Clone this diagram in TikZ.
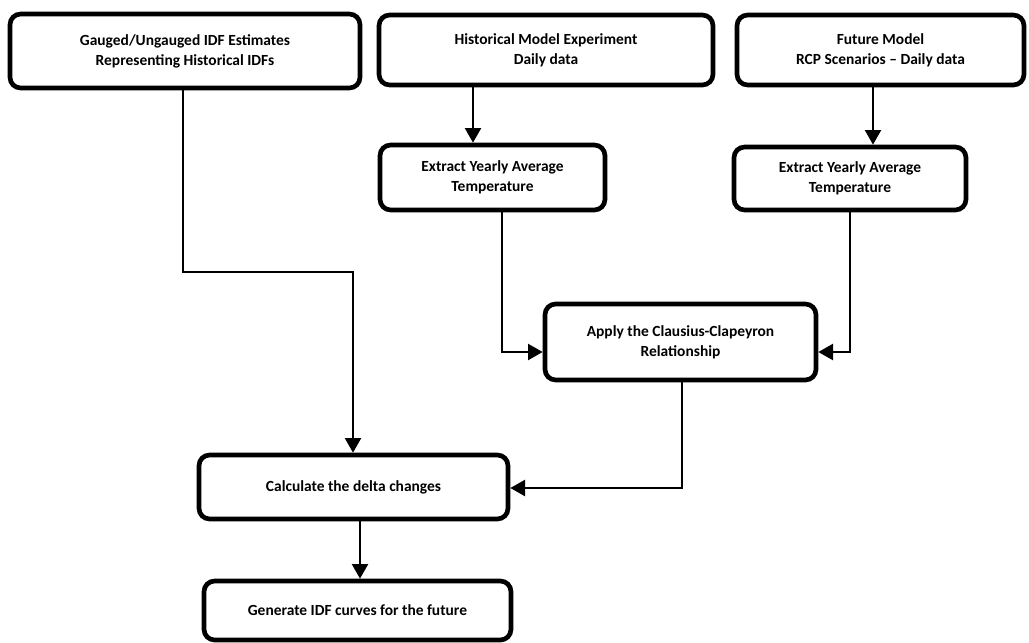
\documentclass[tikz,border=0pt]{standalone}
\usepackage{fontspec}
\setmainfont{Carlito}
\usetikzlibrary{arrows.meta}

\begin{document}
\begin{tikzpicture}[x=0.75pt,y=0.75pt,yscale=-1,xscale=1,
    box/.style={draw, line width=3.5pt, rounded corners=8pt, align=center, inner sep=2pt,
      font=\fontsize{11.6}{15}\selectfont\bfseries},
    link/.style={line width=1.75pt, -{Triangle[length=11pt,width=12pt]}}]
        \useasboundingbox (0,0) rectangle (1029,643);

        % Boxes
        \node [box, minimum width=262.5pt, minimum height=55.5pt] (gauged) at (185,51) {Gauged/Ungauged IDF Estimates\\Representing Historical IDFs};
        \node [box, minimum width=250.5pt, minimum height=52.5pt] (hist) at (546,50) {Historical Model Experiment\\Daily data};
        \node [box, minimum width=215.25pt, minimum height=52.5pt] (future) at (880.5,50) {Future Model\\RCP Scenarios -- Daily data};
        \node [box, minimum width=168.75pt, minimum height=48.75pt] (histtemp) at (492.5,177.5) {Extract Yearly Average\\Temperature};
        \node [box, minimum width=174pt, minimum height=47.25pt] (futtemp) at (850,178.5) {Extract Yearly Average\\Temperature};
        \node [box, minimum width=203.25pt, minimum height=57pt] (cc) at (680.5,342) {Apply the Clausius-Clapeyron\\Relationship};
        \node [box, minimum width=231.75pt, minimum height=48pt] (delta) at (353.5,487) {Calculate the delta changes};
        \node [box, minimum width=230.25pt, minimum height=44.25pt] (curves) at (357.5,610.5) {Generate IDF curves for the future};

        % Bend points and columns
        \coordinate (k1) at (183,272);
        \coordinate (k2) at (353,272);
        \coordinate (k3) at (473,0);
        \coordinate (k4) at (873,0);
        \coordinate (k5) at (502,352);
        \coordinate (k6) at (850,352);
        \coordinate (k7) at (682,488);
        \coordinate (k8) at (360,0);

        % Connectors
        \draw [link] (gauged.south -| k1) -- (k1) -- (k2) -- (delta.north -| k2);
        \draw [link] (hist.south -| k3) -- (histtemp.north -| k3);
        \draw [link] (future.south -| k4) -- (futtemp.north -| k4);
        \draw [link] (histtemp.south -| k5) -- (k5) -- (cc.west |- k5);
        \draw [link] (futtemp.south -| k6) -- (k6) -- (cc.east |- k6);
        \draw [link] (cc.south -| k7) -- (k7) -- (delta.east |- k7);
        \draw [link] (delta.south -| k8) -- (curves.north -| k8);

    \end{tikzpicture}
\end{document}
